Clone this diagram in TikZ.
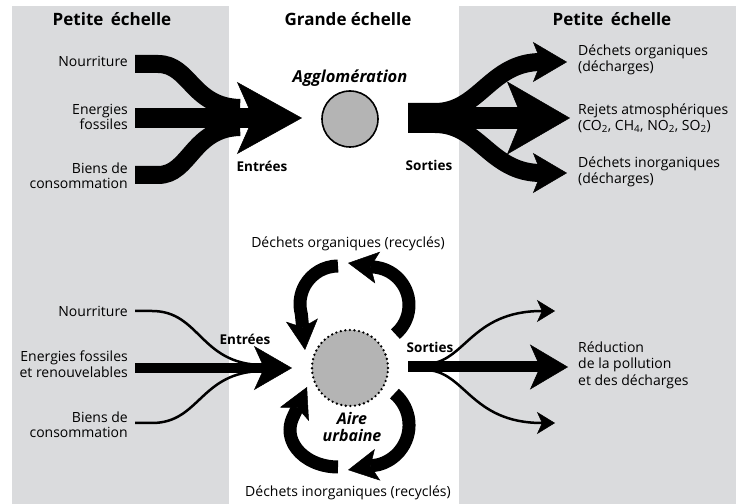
\documentclass[tikz,border=0pt]{standalone}
\usepackage{fontspec}
\setmainfont{Open Sans}
\usetikzlibrary{arrows.meta}
\definecolor{band}{RGB}{218,219,221}
\definecolor{disc}{RGB}{180,180,180}
\tikzset{
  lbl/.style={font=\fontsize{14}{15.5}\selectfont, align=right, inner sep=0pt, anchor=east},
  rlbl/.style={font=\fontsize{14}{16.5}\selectfont, align=left, inner sep=0pt, anchor=west},
  clbl/.style={font=\fontsize{14}{16}\selectfont, inner sep=0pt},
  hdr/.style={font=\fontsize{17}{20}\selectfont\bfseries, inner sep=0pt},
  flowlbl/.style={font=\fontsize{13.5}{16}\selectfont\bfseries, inner sep=0pt},
  place/.style={font=\fontsize{#1}{16.5}\selectfont\bfseries\itshape, inner sep=0pt, align=center},
  bigtip/.tip={Stealth[length=65pt,width=72pt,inset=16pt,line width=0.5pt]},
  midtip/.tip={Stealth[length=34pt,width=40pt,inset=8pt,line width=0.5pt]},
  looptip/.tip={Stealth[length=30pt,width=32pt,inset=7pt,line width=0.5pt]},
  thintip/.tip={Stealth[length=18pt,width=22pt,inset=5pt,line width=0.5pt]},
  bartip/.tip={Stealth[length=38pt,width=45pt,inset=10pt,line width=0.5pt]},
  loop/.style={line width=13pt, -looptip},
  thin/.style={line width=2.5pt, -thintip},
}
\begin{document}
\begin{tikzpicture}[x=1pt,y=1pt]
\useasboundingbox (0,0) rectangle (740,504);
\fill[band] (12,0) rectangle (229,498);
\fill[band] (459,0) rectangle (736,498);

% headers
\node[hdr] (h1) at (112,485) {Petite \kern3pt échelle};
\node[hdr] (h2) at (348,485) {Grande échelle};
\node[hdr] (h3) at (612,485) {Petite \kern3pt échelle};

% ---------------- top part ----------------
\node[circle, draw, line width=1.6pt, fill=disc, minimum size=56pt, inner sep=0pt] (agg) at (350,385) {};
\node[place=16.5] (aggl) at (350,426) {Agglomération};

\node[lbl] (tn1) at (128,443) {Nourriture};
\node[lbl] (tn2) at (128,387) {Energies\\fossiles};
\node[lbl] (tn3) at (128,328) {Biens de\\consommation};
\node[flowlbl] (tent) at (262,338) {Entrées};
\node[flowlbl] (tsor) at (429,339) {Sorties};

\coordinate (ts1) at (135,440);
\coordinate (ts2) at (135,386);
\coordinate (ts3) at (135,329);
\coordinate (tju) at (240,396);
\coordinate (tjl) at (240,377);
\coordinate (ttip) at (302,386);
\draw[line width=18pt] (ts1) -- (158,440) .. controls (190,440) and (192,397) .. (tju);
\draw[line width=18pt] (ts3) -- (158,329) .. controls (190,329) and (192,376) .. (tjl);
\draw[line width=20pt, -bigtip] (ts2) -- (ttip);

\coordinate (ro1) at (408,392);
\coordinate (ro2) at (408,386);
\coordinate (ro3) at (408,380);
\coordinate (rt1) at (567,442);
\coordinate (rt2) at (570,386);
\coordinate (rt3) at (567,331);
\draw[line width=18pt, -midtip] (ro1) -- (435,392) .. controls (480,392) and (490,442) .. (rt1);
\draw[line width=18pt, -midtip] (ro3) -- (435,380) .. controls (480,380) and (490,331) .. (rt3);
\draw[line width=22pt, -{Stealth[length=63pt,width=73pt,inset=15pt,line width=0.5pt]}] (ro2) -- (rt2);

\node[rlbl] (rl1) at (578,444) {Déchets organiques\\(décharges)};
\node[rlbl] (rl2) at (578,386) {Rejets atmosphériques\\(CO\textsubscript{2}, CH\textsubscript{4}, NO\textsubscript{2}, SO\textsubscript{2})};
\node[rlbl] (rl3) at (578,332) {Déchets inorganiques\\(décharges)};

% ---------------- bottom part ----------------
\node[circle, fill=disc, minimum size=76pt, inner sep=0pt, draw, line width=2.6pt,
      dash pattern=on 0pt off 4.6pt, line cap=round] (urb) at (350,136) {};
\node[place=16] (aire) at (352,77) {Aire\\urbaine};

\node[lbl] (bn1) at (128,193) {Nourriture};
\node[lbl] (bn2) at (128,140) {Energies fossiles\\et renouvelables};
\node[lbl] (bn3) at (128,79) {Biens de\\consommation};
\node[flowlbl] (bent) at (245,165) {Entrées};
\node[flowlbl] (bsor) at (430,157) {Sorties};

\coordinate (bs1) at (135,193);
\coordinate (bs2) at (135,136);
\coordinate (bs3) at (135,81);
\coordinate (bju) at (262,139);
\coordinate (bjl) at (262,133);
\coordinate (btip) at (292,136);
\draw[line width=2.5pt] (bs1) -- (152,193) .. controls (200,193) and (200,140) .. (bju);
\draw[line width=2.5pt] (bs3) -- (152,81) .. controls (200,81) and (200,132) .. (bjl);
\draw[line width=10pt, -{Stealth[length=38pt,width=44pt,inset=10pt,line width=0.5pt]}] (bs2) -- (btip);

\coordinate (bo) at (408,137);
\coordinate (bou) at (425,140);
\coordinate (bol) at (425,134);
\coordinate (bt1) at (555,193);
\coordinate (bt2) at (568,137);
\coordinate (bt3) at (555,81);
\draw[line width=11pt, -bartip] (bo) -- (bt2);
\draw[thin] (bou) .. controls (465,140) and (470,193) .. (bt1);
\draw[thin] (bol) .. controls (465,134) and (470,81) .. (bt3);

\node[rlbl] (red) at (578,139) {Réduction\\de la pollution\\et des décharges};

% recycling loops
\node[clbl] (rec1) at (348,260) {Déchets organiques (recyclés)};
\node[clbl] (rec2) at (348,11) {Déchets inorganiques (recyclés)};

\coordinate (la) at (338,238);
\coordinate (lat) at (305,154);
\coordinate (lb) at (395.4,169.9);
\coordinate (lbt) at (348,241);
\coordinate (lc) at (338,37);
\coordinate (lct) at (307,117);
\coordinate (ld) at (394.4,110.4);
\coordinate (ldt) at (348,34);
\draw[loop] (la) arc[start angle=90, end angle=195, radius=38pt] -- (lat);
\draw[loop] (lb) arc[start angle=-50, end angle=80, radius=38pt] -- (lbt);
\draw[loop] (lc) arc[start angle=270, end angle=160, x radius=48pt, y radius=37pt] -- (lct);
\draw[loop] (ld) arc[start angle=50, end angle=-75, radius=41pt] -- (ldt);
\end{tikzpicture}
\end{document}
